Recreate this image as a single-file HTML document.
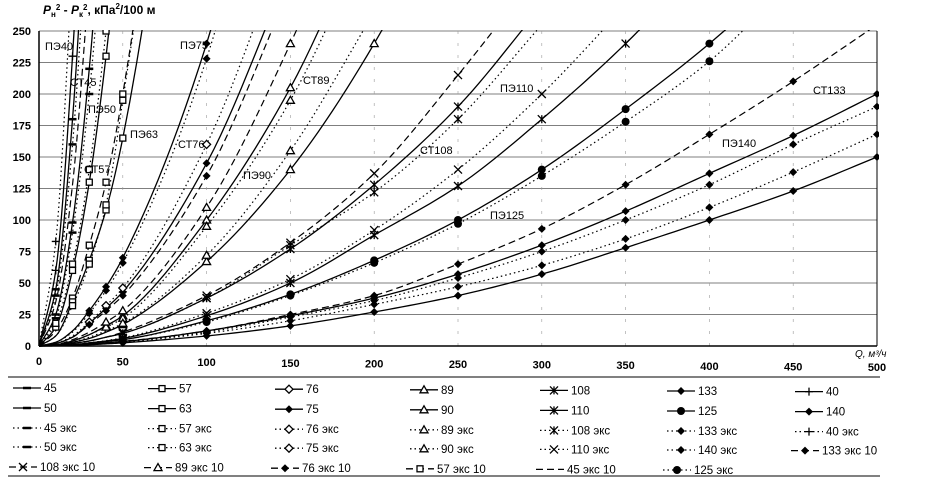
<!DOCTYPE html>
<html><head><meta charset="utf-8"><style>
body{margin:0;background:#fff}
svg{display:block;font-family:"Liberation Sans",sans-serif}
</style></head><body>
<svg id="c" width="926" height="481" viewBox="0 0 926 481" xmlns="http://www.w3.org/2000/svg">
<defs><clipPath id="pc"><rect x="37" y="30" width="842" height="317"/></clipPath></defs>
<g id="grid"></g><g id="series" clip-path="url(#pc)"></g><g id="marks" clip-path="url(#pc)"></g><g id="axes"></g><g id="legend"></g>
</svg>
<script>
const flows=[0,10,20,30,40,50,100,150,200,250,300,350,400,450,500];
const yTicks=[0,25,50,75,100,125,150,175,200,225,250];
const xTicks=[0,50,100,150,200,250,300,350,400,450,500];
const s40=[0,60,230,500];
const s40e=[0,83,300];
const s45=[0,45,180,400];
const s45e=[0,40,160,360];
const s45e10=[0,35,128,290];
const s50=[0,25,98,220,390];
const s50e=[0,22,90,200,355];
const s57=[0,15,60,130,230,360];
const s57e=[0,18,65,140,250,380];
const s57e10=[0,12,38,80,130,200,700];
const s63=[0,8,35,68,108,165,600];
const s63e=[0,8,32,65,112,195,650];
const s75=[0,3,12,28,47,70,240,520];
const s75e=[0,3,11,26,44,66,228,500];
const s76=[0,2,7,18,30,43,145,300];
const s76e=[0,2,8,19,32,46,160,330];
const s76e10=[0,2,7,17,28,40,135,285];
const s89=[0,1,4,9,16,24,100,205,350];
const s89e=[0,1,4,9,15,22,95,195,335];
const s89e10=[0,1,5,11,19,28,110,240,400];
const s90=[0,1,3,6,11,17,67,140,240,370];
const s90e=[0,1,3,7,12,18,72,155,265];
const s108=[0,0.5,2,4,7,10,38,77,128,190,270];
const s108e=[0,0.5,2,4,7,10,38,80,122,180,255];
const s108e10=[0,0.5,2,4,7,11,40,82,137,215,300];
const s110=[0,0.3,1,2.5,4,6,24,50,88,127,180,240,310];
const s110e=[0,0.3,1,2.6,4.3,6.5,26,53,92,140,200,270];
const s125=[0,0.3,1,2,3.5,5,20,41,68,100,140,188,240,300];
const s125e=[0,0.3,1,2,3.4,5,19,40,66,97,135,178,226,290];
const s133=[0,0.2,0.7,1.5,2.5,3.5,12,24,38,57,80,107,137,167,200];
const s133e=[0,0.2,0.6,1.4,2.3,3.3,11,23,36,54,75,100,128,160,190];
const s133e10=[0,0.2,0.7,1.6,2.6,3.7,12,25,40,65,93,128,168,210,255];
const s140=[0,0.1,0.5,1,1.7,2.5,8,16,27,40,57,78,100,123,150];
const s140e=[0,0.2,0.6,1.2,2,3,10,20,33,47,64,85,110,138,168];
const X=v=>39+v*1.676, Y=v=>346-v*1.26;
const NS='http://www.w3.org/2000/svg';
function mk(t,a,p){const e=document.createElementNS(NS,t);for(const k in a)e.setAttribute(k,a[k]);p.appendChild(e);return e;}
const G=document.getElementById('grid'),S=document.getElementById('series'),M=document.getElementById('marks'),A=document.getElementById('axes'),L=document.getElementById('legend');
yTicks.forEach(t=>{const l=mk('line',{x1:X(0),x2:X(500),y1:Y(t),y2:Y(t),stroke:'#555','stroke-width':0.8},G);

const tx=mk('text',{x:31,y:Y(t)+4,'text-anchor':'end','font-size':11,'font-weight':'bold'},A);tx.textContent=t;
});
xTicks.forEach(t=>{if(t>0){const l=mk('line',{x1:X(t),x2:X(t),y1:Y(0),y2:Y(250),stroke:'#999','stroke-width':0.6,'stroke-dasharray':'3,9'},G);
}
const tx=mk('text',{x:X(t),y:Y(0)+19+(t/500)*6,'text-anchor':'middle','font-size':11,'font-weight':'bold'},A);tx.textContent=t;
});
let ax=mk('line',{x1:X(0),x2:X(0),y1:Y(0),y2:Y(250),stroke:'#000','stroke-width':1.5},A);

ax=mk('line',{x1:X(0),x2:X(500),y1:Y(0),y2:Y(0),stroke:'#000','stroke-width':1.5},A);

ax=mk('line',{x1:X(500),x2:X(500),y1:Y(0),y2:Y(250),stroke:'#000','stroke-width':1},A);

let tt=mk('text',{x:43,y:14,'font-size':12,'font-weight':'bold'},A);tt.innerHTML='<tspan font-style="italic">P</tspan><tspan font-size="8" dy="3">н</tspan><tspan font-size="8" dy="-7">2</tspan><tspan dy="4"> - </tspan><tspan font-style="italic">P</tspan><tspan font-size="8" dy="3">к</tspan><tspan font-size="8" dy="-7">2</tspan><tspan dy="4">, кПа</tspan><tspan font-size="8" dy="-5">2</tspan><tspan dy="5">/100 м</tspan>';

tt=mk('text',{x:855,y:357,'font-size':10,'font-style':'italic'},A);tt.textContent='Q, м³/ч';

const DS={solid:'',dot:'1.5,3',dash:'7,4'};
function marker(g,type,x,y){
 const st={stroke:'#000','stroke-width':1.3};
 if(type==='plus'){mk('path',Object.assign({d:`M${x-4} ${y}H${x+4}M${x} ${y-4}V${y+4}`},st),g);}
 else if(type==='sq'){mk('rect',Object.assign({x:x-3,y:y-3,width:6,height:6,fill:'#fff'},st),g);}
 else if(type==='dia'){mk('path',Object.assign({d:`M${x} ${y-4}L${x+4} ${y}L${x} ${y+4}L${x-4} ${y}Z`,fill:'#fff'},st),g);}
 else if(type==='fdia'){mk('path',{d:`M${x} ${y-4}L${x+4} ${y}L${x} ${y+4}L${x-4} ${y}Z`,fill:'#000'},g);}
 else if(type==='tri'){mk('path',Object.assign({d:`M${x} ${y-4}L${x+4} ${y+3}L${x-4} ${y+3}Z`,fill:'#fff'},st),g);}
 else if(type==='ast'){mk('path',Object.assign({d:`M${x-4} ${y-4}L${x+4} ${y+4}M${x+4} ${y-4}L${x-4} ${y+4}M${x} ${y-4}V${y+4}`},st),g);}
 else if(type==='x'){mk('path',Object.assign({d:`M${x-4} ${y-4}L${x+4} ${y+4}M${x+4} ${y-4}L${x-4} ${y+4}`},st),g);}
 else if(type==='circ'){mk('circle',{cx:x,cy:y,r:4,fill:'#000'},g);}
 else if(type==='dash'){mk('path',{d:`M${x-4} ${y}H${x+4}`,stroke:'#000','stroke-width':2.5},g);}
}
const series=[
['40',s40,'solid','plus'],['40 экс',s40e,'dot','plus'],['45',s45,'solid','dash'],['45 экс',s45e,'dot','dash'],['45 экс 10',s45e10,'dash','none'],
['50',s50,'solid','dash'],['50 экс',s50e,'dot','dash'],['57',s57,'solid','sq'],['57 экс',s57e,'dot','sq'],['57 экс 10',s57e10,'dash','sq'],
['63',s63,'solid','sq'],['63 экс',s63e,'dot','sq'],['75',s75,'solid','fdia'],['75 экс',s75e,'dot','fdia'],['76',s76,'solid','fdia'],['76 экс',s76e,'dot','dia'],['76 экс 10',s76e10,'dash','fdia'],
['89',s89,'solid','tri'],['89 экс',s89e,'dot','tri'],['89 экс 10',s89e10,'dash','tri'],['90',s90,'solid','tri'],['90 экс',s90e,'dot','tri'],
['108',s108,'solid','ast'],['108 экс',s108e,'dot','ast'],['108 экс 10',s108e10,'dash','x'],['110',s110,'solid','ast'],['110 экс',s110e,'dot','x'],
['125',s125,'solid','circ'],['125 экс',s125e,'dot','circ'],['133',s133,'solid','fdia'],['133 экс',s133e,'dot','fdia'],['133 экс 10',s133e10,'dash','fdia'],
['140',s140,'solid','fdia'],['140 экс',s140e,'dot','fdia']];
// monotone cubic (Fritsch-Carlson) in data space, sampled
function monoPath(xs,ys){const n=xs.length,d=[],m=new Array(n);
for(let i=0;i<n-1;i++)d.push((ys[i+1]-ys[i])/(xs[i+1]-xs[i]));
m[0]=d[0];m[n-1]=d[n-2];for(let i=1;i<n-1;i++){if(d[i-1]*d[i]<=0)m[i]=0;else{const w1=2*(xs[i+1]-xs[i])+(xs[i]-xs[i-1]),w2=(xs[i+1]-xs[i])+2*(xs[i]-xs[i-1]);m[i]=(w1+w2)/(w1/d[i-1]+w2/d[i]);}}
let p=`M${X(xs[0])} ${Y(ys[0])}`;
for(let i=0;i<n-1;i++){const h=xs[i+1]-xs[i];for(let k=1;k<=12;k++){const t=k/12,h00=2*t*t*t-3*t*t+1,h10=t*t*t-2*t*t+t,h01=-2*t*t*t+3*t*t,h11=t*t*t-t*t;
const y=h00*ys[i]+h10*h*m[i]+h01*ys[i+1]+h11*h*m[i+1];p+=`L${X(xs[i]+t*h).toFixed(2)} ${Y(y).toFixed(2)}`;}}
return p;}
series.forEach(s=>{const xs=flows.slice(0,s[1].length);
const p=mk('path',{d:monoPath(xs,s[1]),fill:'none',stroke:'#000','stroke-width':s[2]==='solid'?1.3:1.2,'stroke-dasharray':DS[s[2]]},S);

if(s[3]!=='none'){const g=mk('g',{},M);
s[1].forEach((v,i)=>{if(i>0&&v<=252&&(flows[i]>=50||v>12))marker(g,s[3],X(flows[i]),Y(v));});}});
const labels=[['ПЭ40',45,50],['СТ45',70,86],['ПЭ50',88,113],['СТ57',84,173],['ПЭ63',130,138],['ПЭ75',180,49],['СТ76',178,148],['СТ89',303,84],['ПЭ90',243,179],['СТ108',420,154],['ПЭ110',500,92],['ПЭ125',490,219],['СТ133',813,94],['ПЭ140',722,147]];
labels.forEach(l=>{const t=mk('text',{x:l[1],y:l[2],'font-size':11},A);t.textContent=l[0];
});
let bl=mk('line',{x1:8,x2:880,y1:377,y2:377,stroke:'#000','stroke-width':1},L);
bl=mk('line',{x1:8,x2:880,y1:476,y2:476,stroke:'#000','stroke-width':1},L);
const legCols=[[['45','solid','dash'],['50','solid','dash'],['45 экс','dot','dash'],['50 экс','dot','dash'],['108 экс 10','dash','x']],
[['57','solid','sq'],['63','solid','sq'],['57 экс','dot','sq'],['63 экс','dot','sq'],['89 экс 10','dash','tri']],
[['76','solid','dia'],['75','solid','fdia'],['76 экс','dot','dia'],['75 экс','dot','dia'],['76 экс 10','dash','fdia']],
[['89','solid','tri'],['90','solid','tri'],['89 экс','dot','tri'],['90 экс','dot','tri'],['57 экс 10','dash','sq']],
[['108','solid','ast'],['110','solid','ast'],['108 экс','dot','ast'],['110 экс','dot','x'],['45 экс 10','dash','none']],
[['133','solid','fdia'],['125','solid','circ'],['133 экс','dot','fdia'],['140 экс','dot','fdia'],['125 экс','dot','circ']],
[['40','solid','plus'],['140','solid','fdia'],['40 экс','dot','plus'],['133 экс 10','dash','fdia']]];
const colX=[13,148,275,410,540,667,795],rowY=[388,408,428,447,467];
legCols.forEach((col,ci)=>col.forEach((e,ri)=>{const g=mk('g',{},L);
const x=colX[ci]+(ri===4||ci===6&&ri===3?-4:0),y=rowY[ri]+(ci*0.6);
mk('line',{x1:x,x2:x+28,y1:y,y2:y,stroke:'#000','stroke-width':1.3,'stroke-dasharray':DS[e[1]]},g);
if(e[2]!=='none')marker(g,e[2],x+14,y);
const t=mk('text',{x:x+31,y:y+4,'font-size':11.5},g);t.textContent=e[0];}));
</script>
</body></html>
